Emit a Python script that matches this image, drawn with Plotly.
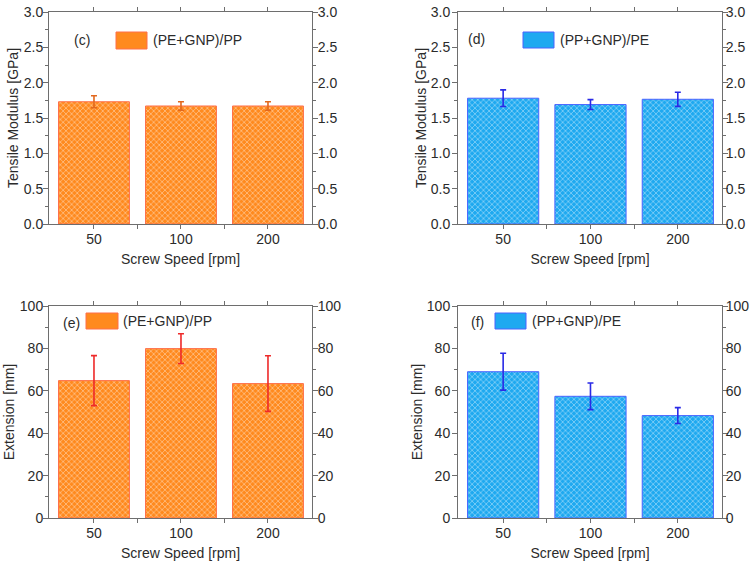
import plotly.graph_objects as go

# ---------------- data ----------------
speeds = ["50", "100", "200"]
series_names = ["(PE+GNP)/PP", "(PP+GNP)/PE", "(PE+GNP)/PP", "(PP+GNP)/PE"]
panel_labels = ["(c)", "(d)", "(e)", "(f)"]

modulus_pe_gnp_pp = [1.73, 1.67, 1.67]
modulus_pe_gnp_pp_err = [0.085, 0.06, 0.06]
modulus_pp_gnp_pe = [1.78, 1.69, 1.765]
modulus_pp_gnp_pe_err = [0.118, 0.07, 0.10]
extension_pe_gnp_pp = [64.8, 79.9, 63.4]
extension_pe_gnp_pp_err = [11.8, 7.0, 13.1]
extension_pp_gnp_pe = [69.0, 57.4, 48.3]
extension_pp_gnp_pe_err = [8.7, 6.3, 3.75]

y_titles = ["Tensile Modulus [GPa]", "Tensile Modulus [GPa]", "Extension [mm]", "Extension [mm]"]
x_title = "Screw Speed [rpm]"

# ---------------- styling ----------------
W, H = 750, 565
FONT = "Arial, Liberation Sans, sans-serif"
TXT = "#2b2b2b"
AXC = "#6e6e6e"
FS = 14

ORANGE = "#ff8a1e"
BLUE = "#1ea9f0"

def fx(p):
    return p / W

def fy(p):
    return 1 - p / H

panels = [
    dict(vals=modulus_pe_gnp_pp, err=modulus_pe_gnp_pp_err, fill=ORANGE, line="#ff6f4a", ecol="#e2681e",
         box=(49, 312, 12, 224), yr=[0, 3], dtick=0.5, minor=0.25, fmt=".1f",
         lab_xy=(82, 40), sw=(116, 147, 32, 49), txt_x=151, lstand=-3, rstand=-3, tstand=1),
    dict(vals=modulus_pp_gnp_pe, err=modulus_pp_gnp_pe_err, fill=BLUE, line="#4a63ff", ecol="#2a2ae6",
         box=(458, 722, 12, 224), yr=[0, 3], dtick=0.5, minor=0.25, fmt=".1f",
         lab_xy=(476, 39), sw=(523, 554, 32, 48), txt_x=558, lstand=-1, rstand=-5, tstand=0),
    dict(vals=extension_pe_gnp_pp, err=extension_pe_gnp_pp_err, fill=ORANGE, line="#ff6f4a", ecol="#ee2a2a",
         box=(49, 312, 306, 518), yr=[0, 100], dtick=20, minor=10, fmt="d",
         lab_xy=(71, 323), sw=(86, 118, 313, 329), txt_x=121, lstand=-3, rstand=-3, tstand=1),
    dict(vals=extension_pp_gnp_pe, err=extension_pp_gnp_pe_err, fill=BLUE, line="#4a63ff", ecol="#2a2ae6",
         box=(458, 722, 306, 518), yr=[0, 100], dtick=20, minor=10, fmt="d",
         lab_xy=(477, 322), sw=(495, 526, 313, 329), txt_x=530, lstand=-1, rstand=-5, tstand=0),
]

fig = go.Figure()
layout = dict(
    width=W, height=H,
    margin=dict(l=0, r=0, t=0, b=0),
    paper_bgcolor="white", plot_bgcolor="white",
    showlegend=False,
    font=dict(family=FONT, size=FS, color=TXT),
)
shapes = []
annotations = []

xpos = list(range(len(speeds)))

for i, p in enumerate(panels):
    n = i + 1
    xa = "x" if n == 1 else f"x{n}"
    ya = "y" if n == 1 else f"y{n}"
    yr_id = n + 4
    x0, x1, y0, y1 = p["box"]

    fig.add_trace(go.Bar(
        x=xpos, y=p["vals"], xaxis=xa, yaxis=ya, name=series_names[i],
        width=0.815,
        marker=dict(
            color=p["fill"],
            line=dict(color=p["line"], width=1),
            pattern=dict(shape="x", fgcolor="white", bgcolor=p["fill"], size=4, solidity=0.25, fgopacity=0.7),
        ),
        error_y=dict(type="data", array=p["err"], visible=True, color=p["ecol"], thickness=1.6, width=3),
    ))
    # empty trace so the mirrored right-hand value axis is drawn
    fig.add_trace(go.Scatter(x=[None], y=[None], xaxis=xa, yaxis=f"y{yr_id}",
                             mode="markers", showlegend=False, hoverinfo="skip"))

    common_y = dict(
        range=p["yr"], dtick=p["dtick"], tick0=0, tickformat=p["fmt"],
        ticks="outside", ticklen=5, tickwidth=1, tickcolor=AXC,
        showline=True, linecolor=AXC, linewidth=1, showgrid=False, zeroline=False,
        minor=dict(dtick=p["minor"], tick0=0, ticks="outside", ticklen=3, tickcolor=AXC),
        tickfont=dict(family=FONT, size=FS, color=TXT), ticklabeloverflow="allow",
        domain=[fy(y1), fy(y0)], anchor=xa, automargin=False, fixedrange=True,
    )
    layout[("xaxis" if n == 1 else f"xaxis{n}")] = dict(
        domain=[fx(x0), fx(x1)], anchor=ya, automargin=False, fixedrange=True,
        range=[-0.517, 2.506], tickmode="array", tickvals=xpos, ticktext=speeds,
        ticks="outside", ticklen=4, tickwidth=1, tickcolor=AXC, ticklabelstandoff=-2,
        minor=dict(tickmode="array", tickvals=[0.5, 1.5], ticks="outside", ticklen=4, tickcolor=AXC),
        showline=True, linecolor=AXC, linewidth=1, mirror="ticks", showgrid=False, zeroline=False,
        tickfont=dict(family=FONT, size=FS, color=TXT),
        title=dict(text=x_title, font=dict(family=FONT, size=FS, color=TXT), standoff=8),
    )
    ly = dict(common_y)
    ly["ticklabelstandoff"] = p["lstand"]
    ly["title"] = dict(text=y_titles[i], font=dict(family=FONT, size=FS, color=TXT), standoff=p["tstand"])
    layout[("yaxis" if n == 1 else f"yaxis{n}")] = ly
    ry = dict(common_y)
    ry.update(overlaying=ya, side="right", ticklabelstandoff=p["rstand"])
    layout[f"yaxis{yr_id}"] = ry

    # legend swatch + text, panel label
    sx0, sx1, sy0, sy1 = p["sw"]
    shapes.append(dict(type="rect", xref="paper", yref="paper",
                       x0=fx(sx0), x1=fx(sx1), y0=fy(sy1), y1=fy(sy0),
                       fillcolor=p["fill"], line=dict(color=p["line"], width=1)))
    annotations.append(dict(xref="paper", yref="paper", x=fx(p["txt_x"]), y=fy((sy0 + sy1) / 2),
                            xanchor="left", yanchor="middle", showarrow=False,
                            text=series_names[i], font=dict(family=FONT, size=FS, color=TXT)))
    lx, lyy = p["lab_xy"]
    annotations.append(dict(xref="paper", yref="paper", x=fx(lx), y=fy(lyy),
                            xanchor="center", yanchor="middle", showarrow=False,
                            text=panel_labels[i], font=dict(family=FONT, size=FS, color=TXT)))

layout["shapes"] = shapes
layout["annotations"] = annotations
fig.update_layout(**layout)
# place the 750x565 figure flush with the page corner (no default body margin)
fig.write_html("out.html", config={"displayModeBar": False},
               post_script="document.body.style.margin='0';document.body.style.overflow='hidden';")
